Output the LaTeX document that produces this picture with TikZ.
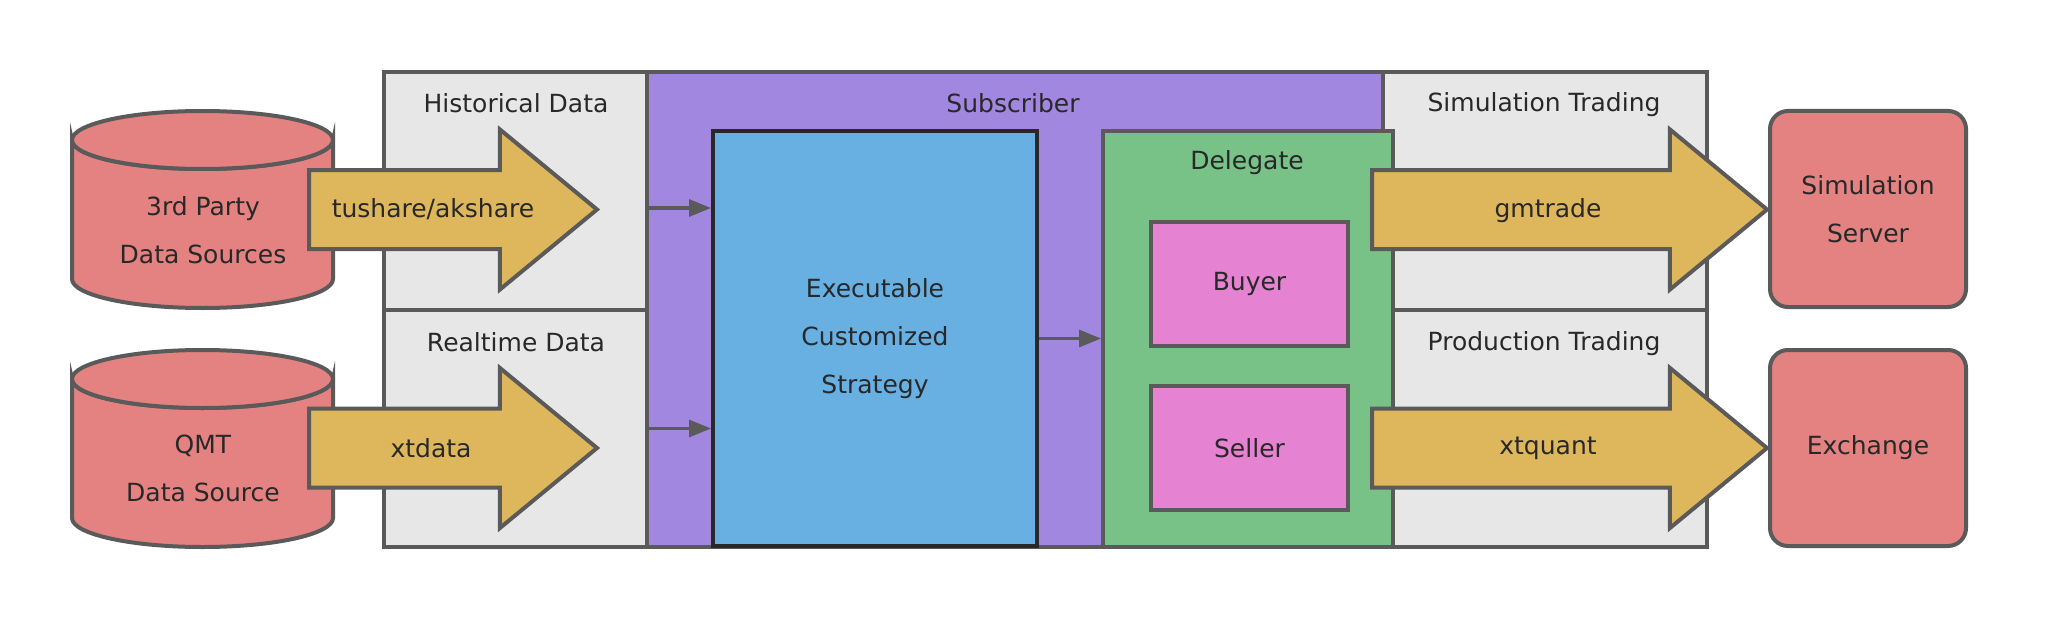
\documentclass[tikz,border=0pt]{standalone}
\usepackage{fontspec}
\setmainfont{DejaVu Sans}
\usetikzlibrary{shapes.arrows,arrows.meta}

\definecolor{dbred}{RGB}{228,130,130}
\definecolor{panelgray}{RGB}{230,231,230}
\definecolor{subpurple}{RGB}{161,135,224}
\definecolor{stratblue}{RGB}{104,175,226}
\definecolor{delegreen}{RGB}{120,194,135}
\definecolor{rolepink}{RGB}{229,130,210}
\definecolor{feedgold}{RGB}{222,183,92}
\definecolor{edgegray}{RGB}{90,90,90}
\definecolor{stratedge}{RGB}{40,40,40}
\definecolor{inkgray}{RGB}{40,40,40}

\begin{document}
\begin{tikzpicture}[x=0.5pt,y=-0.5pt,
    font=\fontsize{12.5}{24}\selectfont, text=inkgray,
    panel/.style ={rectangle, draw=edgegray, line width=2pt, fill=panelgray, inner sep=0pt},
    box/.style ={rectangle, draw=edgegray, line width=2pt, inner sep=0pt, align=center},
    datasrc/.style ={draw=edgegray, line width=2pt, fill=dbred},
    lid/.style ={x radius=65.25pt, y radius=14.5pt},
    server/.style ={box, rounded corners=9pt, fill=dbred, minimum width=98pt, minimum height=98pt},
    feed/.style ={single arrow, draw=edgegray, line width=2pt, fill=feedgold, anchor=tail,
                  inner sep=18.75pt, single arrow head extend=20.25pt, single arrow tip angle=79,
                  minimum height=144pt},
    link/.style ={draw=edgegray, line width=1.6pt, -{Triangle[length=11pt,width=8.5pt]}}]
   \useasboundingbox (0,0) rectangle (2050,626);

   % panels
   \node[panel, minimum width=131.5pt, minimum height=119pt] (hist) at (515.5,191) {};
   \node[panel, minimum width=131.5pt, minimum height=118.5pt] (real) at (515.5,428.5) {};
   \node[panel, fill=subpurple, minimum width=368pt, minimum height=237.5pt] (subscriber) at (1015,309.5) {};
   \node[panel, minimum width=162pt, minimum height=119pt] (simtrade) at (1545,191) {};
   \node[panel, minimum width=162pt, minimum height=118.5pt] (prodtrade) at (1545,428.5) {};

   \node[box, draw=stratedge, fill=stratblue, minimum width=162pt, minimum height=207.5pt] (strategy) at (875,338.5) {Executable\\Customized\\Strategy};
   \node[box, fill=delegreen, minimum width=145pt, minimum height=208pt] (delegate) at (1248,339) {};
   \node[box, fill=rolepink, minimum width=98.5pt, minimum height=62pt] (buyer) at (1249.5,284) {Buyer};
   \node[box, fill=rolepink, minimum width=98.5pt, minimum height=62pt] (seller) at (1249.5,448) {Seller};

   % data sources
   \draw[datasrc] (72,140) -- (72,279) arc[start angle=180, end angle=360, lid] -- (333,140)
                  arc[start angle=0, end angle=-180, lid] -- cycle;
   \draw[datasrc] (202.5,140) ellipse [lid];
   \draw[datasrc] (72,379) -- (72,518) arc[start angle=180, end angle=360, lid] -- (333,379)
                  arc[start angle=0, end angle=-180, lid] -- cycle;
   \draw[datasrc] (202.5,379) ellipse [lid];

   \node[server] (simserver) at (1868,209) {Simulation\\Server};
   \node[server] (exchange) at (1868,448) {Exchange};

   % data and trade feeds
   \node[feed] (tushare) at (307,209.5) {};
   \node[feed] (xtdata) at (307,448) {};
   \node[feed, minimum height=197.5pt] (gmtrade) at (1370,209.5) {};
   \node[feed, minimum height=197.5pt] (xtquant) at (1370,448) {};

   \draw[link] ([yshift=-8.5pt]hist.east) -- ([yshift=-8.5pt]hist.east -| strategy.west);
   \draw[link] (real.east) -- (real.east -| strategy.west);
   \draw[link] (strategy.east) -- (strategy.east -| delegate.west);

   % labels
   \node (histlbl) at (516,103) {Historical Data};
   \node (reallbl) at (516,342) {Realtime Data};
   \node (subscriberlbl) at (1013,103) {Subscriber};
   \node (simtradelbl) at (1544,105) {Simulation Trading};
   \node (prodtradelbl) at (1544,344) {Production Trading};
   \node (delegatelbl) at (1247,163) {Delegate};
   \node[align=center] (thirdpartylbl) at (203,230) {3rd Party\\Data Sources};
   \node[align=center] (qmtlbl) at (203,468) {QMT\\Data Source};
   \node (tusharelbl) at (433,209) {tushare/akshare};
   \node (xtdatalbl) at (431,448) {xtdata};
   \node (gmtradelbl) at (1548,211) {gmtrade};
   \node (xtquantlbl) at (1548,448) {xtquant};
 \end{tikzpicture}
\end{document}
